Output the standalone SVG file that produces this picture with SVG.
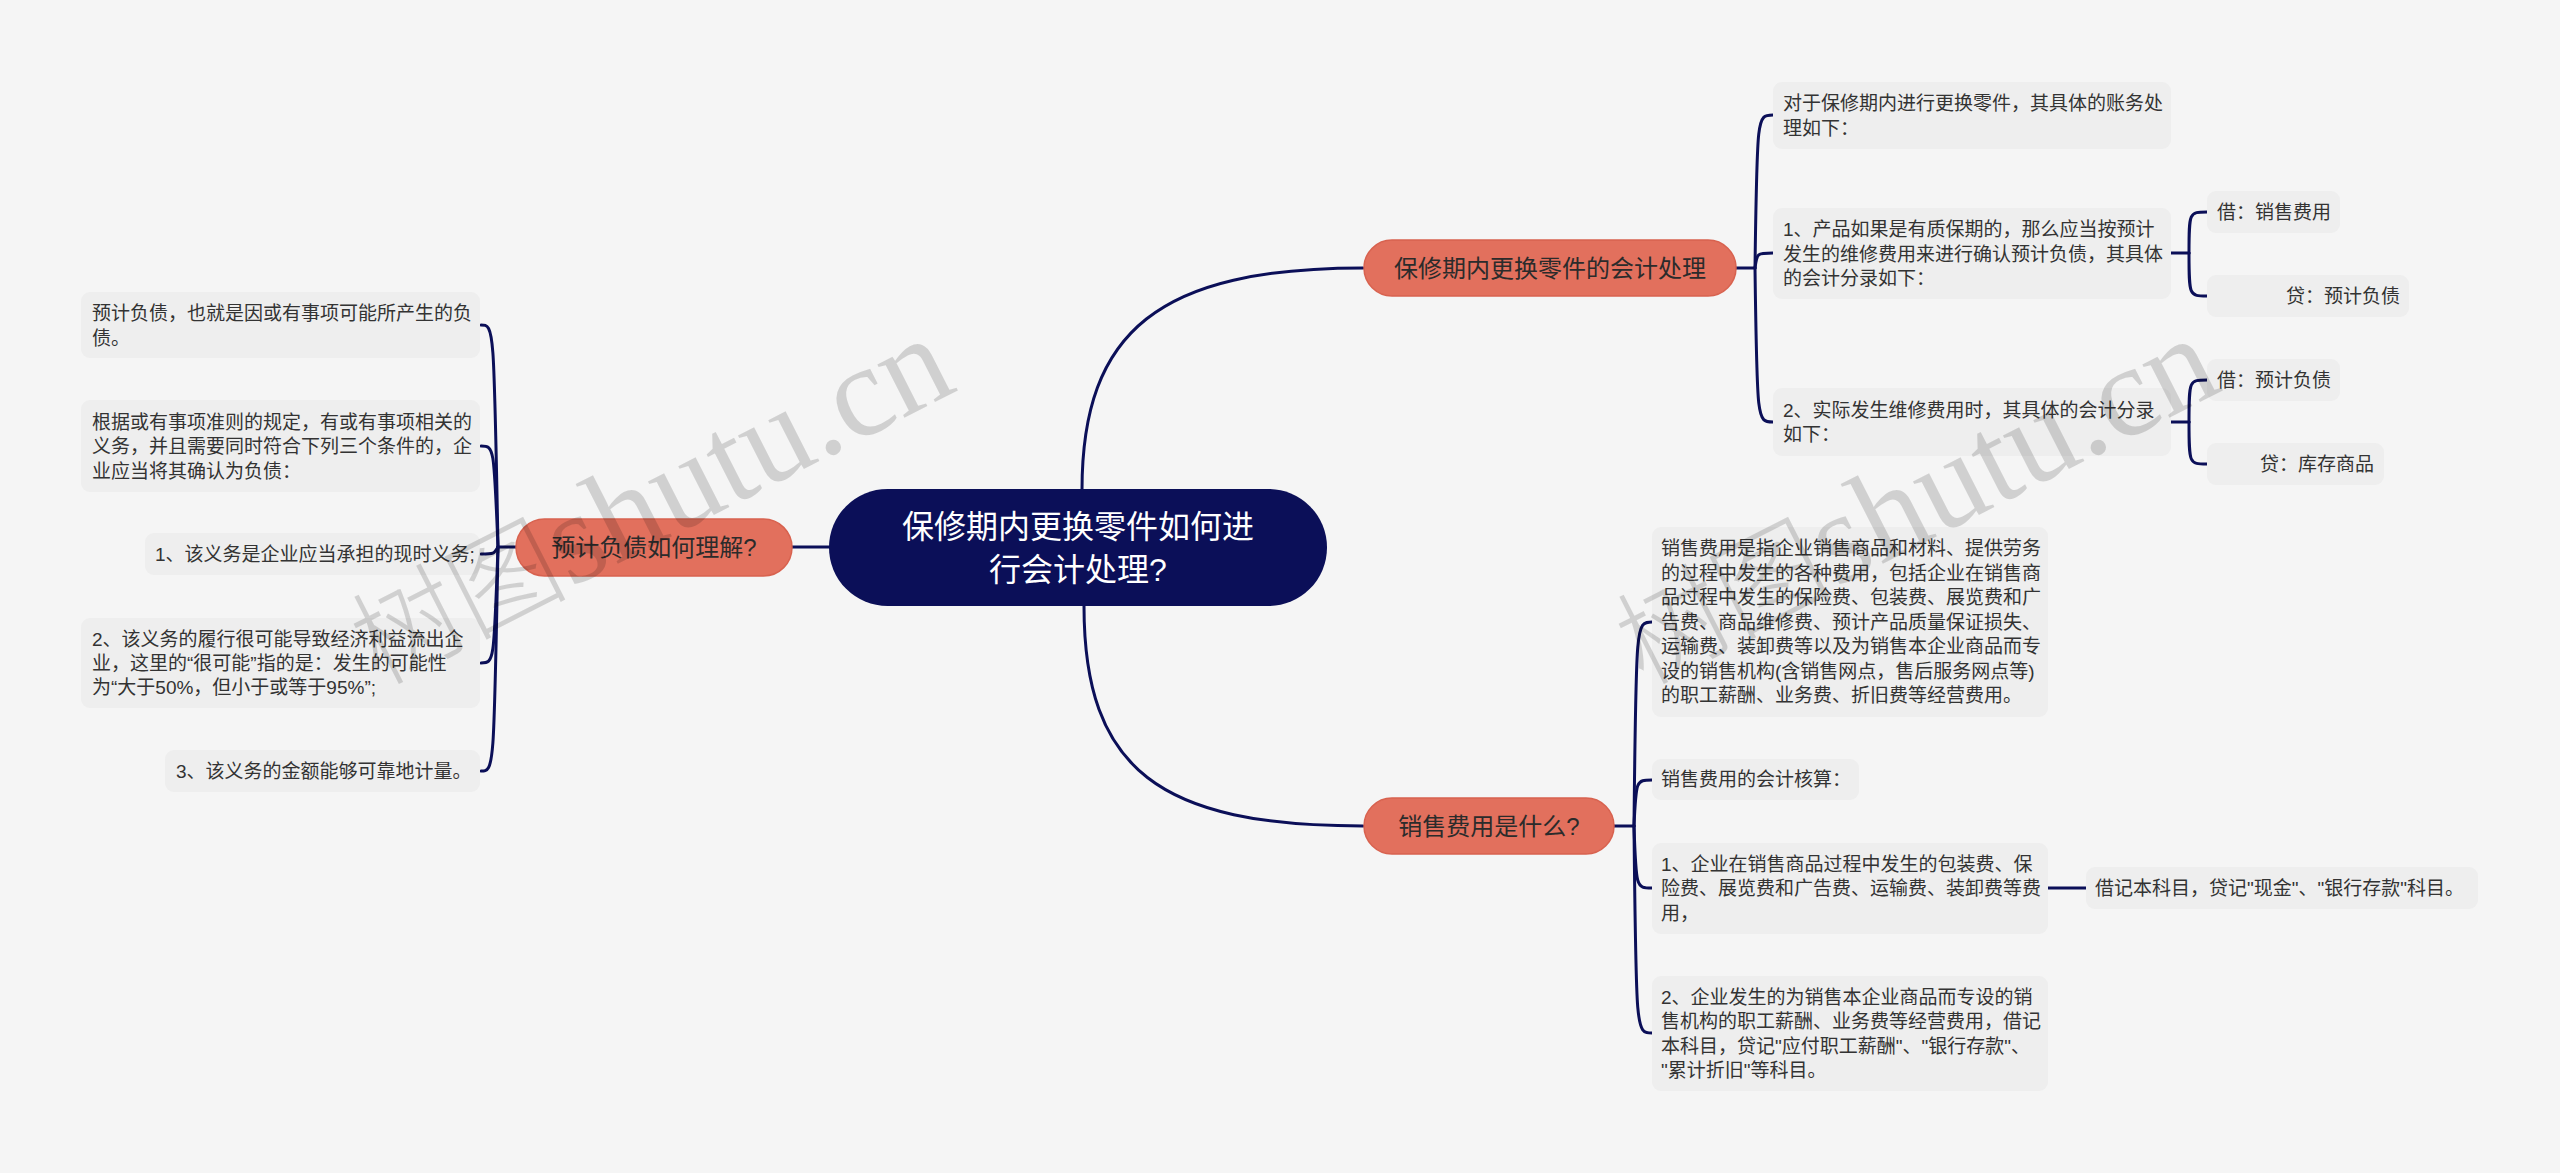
<svg xmlns="http://www.w3.org/2000/svg" width="2560" height="1173" viewBox="0 0 2560 1173">
<style>
.leaf{fill:#eeeeee}
.lt{font-family:"Liberation Sans","Noto Sans CJK SC",sans-serif;font-size:19px;fill:#333333;dominant-baseline:central}
.br{fill:#e2705d;stroke:#d8624f;stroke-width:1.5}
.bt{font-family:"Liberation Sans","Noto Sans CJK SC",sans-serif;font-size:24px;fill:#2b2b2b;dominant-baseline:central;text-anchor:middle}
.root{fill:#0b0f58}
.rt{font-family:"Liberation Sans","Noto Sans CJK SC",sans-serif;font-size:32px;fill:#ffffff;dominant-baseline:central;text-anchor:middle}
.cn{fill:none;stroke:#0b0f58;stroke-width:3;stroke-linecap:round}
.wm{font-family:"Liberation Serif","Noto Sans CJK SC",serif;font-size:130px;fill:#000000;fill-opacity:0.15}
.wmc{font-size:108px;font-weight:300}
</style>
<rect width="2560" height="1173" fill="#f5f5f5"/>

<g id="connectors">
  <path class="cn" d="M1082 490 C1082 330,1160 268,1363 268"/>
  <path class="cn" d="M1084 606 C1084 770,1160 826,1363 826"/>
  <path class="cn" d="M792 547 H830"/>
  <path class="cn" d="M516 547 H498"/>
  <path class="cn" d="M498 547 C494 325,494 325,481 325"/>
  <path class="cn" d="M498 547 C494 446,494 446,481 446"/>
  <path class="cn" d="M498 547 C494 554,494 554,481 554"/>
  <path class="cn" d="M498 547 C494 663,494 663,481 663"/>
  <path class="cn" d="M498 547 C494 771,494 771,481 771"/>
  <path class="cn" d="M1736 268 H1755"/>
  <path class="cn" d="M1755 268 C1757 115,1757 115,1773 115"/>
  <path class="cn" d="M1755 268 C1757 253,1757 253,1773 253"/>
  <path class="cn" d="M1755 268 C1757 422,1757 422,1773 422"/>
  <path class="cn" d="M2171 253 H2189"/>
  <path class="cn" d="M2189 253 C2189 212,2189 212,2207 212"/>
  <path class="cn" d="M2189 253 C2189 296,2189 296,2207 296"/>
  <path class="cn" d="M2171 422 H2189"/>
  <path class="cn" d="M2189 422 C2189 380,2189 380,2207 380"/>
  <path class="cn" d="M2189 422 C2189 464,2189 464,2207 464"/>
  <path class="cn" d="M1614 826 H1634"/>
  <path class="cn" d="M1634 826 C1636 622,1636 622,1652 622"/>
  <path class="cn" d="M1634 826 C1636 780,1636 780,1652 780"/>
  <path class="cn" d="M1634 826 C1636 888,1636 888,1652 888"/>
  <path class="cn" d="M1634 826 C1636 1033,1636 1033,1652 1033"/>
  <path class="cn" d="M2048 888 H2086"/>
</g>

<g id="root">
  <rect class="root" x="829" y="489" width="498" height="117" rx="58.5"/>
  <text class="rt" x="1078" y="527">保修期内更换零件如何进</text>
  <text class="rt" x="1078" y="570">行会计处理?</text>
</g>

<g id="branch-left">
  <rect class="br" x="516" y="519" width="276" height="57" rx="28.5"/>
  <text class="bt" x="654" y="547">预计负债如何理解?</text>
</g>
<g id="branch-top">
  <rect class="br" x="1364" y="240" width="372" height="56" rx="28"/>
  <text class="bt" x="1550" y="268">保修期内更换零件的会计处理</text>
</g>
<g id="branch-bottom">
  <rect class="br" x="1364" y="798" width="250" height="56" rx="28"/>
  <text class="bt" x="1489" y="826">销售费用是什么?</text>
</g>

<g id="l1">
  <rect class="leaf" x="81" y="292" width="399" height="66" rx="9"/>
  <text class="lt" x="92" y="313">预计负债，也就是因或有事项可能所产生的负</text>
  <text class="lt" x="92" y="338">债。</text>
</g>
<g id="l2">
  <rect class="leaf" x="81" y="400" width="399" height="92" rx="9"/>
  <text class="lt" x="92" y="422">根据或有事项准则的规定，有或有事项相关的</text>
  <text class="lt" x="92" y="446.5">义务，并且需要同时符合下列三个条件的，企</text>
  <text class="lt" x="92" y="471">业应当将其确认为负债：</text>
</g>
<g id="l3">
  <rect class="leaf" x="145" y="533" width="335" height="42" rx="9"/>
  <text class="lt" x="155" y="554">1、该义务是企业应当承担的现时义务;</text>
</g>
<g id="l4">
  <rect class="leaf" x="81" y="618" width="399" height="90" rx="9"/>
  <text class="lt" x="92" y="639">2、该义务的履行很可能导致经济利益流出企</text>
  <text class="lt" x="92" y="663">业，这里的“很可能”指的是：发生的可能性</text>
  <text class="lt" x="92" y="687.5">为“大于50%，但小于或等于95%”;</text>
</g>
<g id="l5">
  <rect class="leaf" x="165" y="750" width="315" height="42" rx="9"/>
  <text class="lt" x="176" y="771">3、该义务的金额能够可靠地计量。</text>
</g>

<g id="t1">
  <rect class="leaf" x="1773" y="82" width="398" height="67" rx="9"/>
  <text class="lt" x="1783" y="103.5">对于保修期内进行更换零件，其具体的账务处</text>
  <text class="lt" x="1783" y="128">理如下：</text>
</g>
<g id="t2">
  <rect class="leaf" x="1773" y="208" width="398" height="91" rx="9"/>
  <text class="lt" x="1783" y="229.5">1、产品如果是有质保期的，那么应当按预计</text>
  <text class="lt" x="1783" y="254">发生的维修费用来进行确认预计负债，其具体</text>
  <text class="lt" x="1783" y="278.5">的会计分录如下：</text>
</g>
<g id="t3">
  <rect class="leaf" x="1773" y="388" width="398" height="68" rx="9"/>
  <text class="lt" x="1783" y="410">2、实际发生维修费用时，其具体的会计分录</text>
  <text class="lt" x="1783" y="434.5">如下：</text>
</g>
<g id="t2a">
  <rect class="leaf" x="2207" y="191" width="133" height="42" rx="9"/>
  <text class="lt" x="2217" y="212">借：销售费用</text>
</g>
<g id="t2b">
  <rect class="leaf" x="2207" y="275" width="202" height="42" rx="9"/>
  <text class="lt" x="2400" y="296" text-anchor="end">贷：预计负债</text>
</g>
<g id="t3a">
  <rect class="leaf" x="2207" y="359" width="133" height="42" rx="9"/>
  <text class="lt" x="2217" y="380">借：预计负债</text>
</g>
<g id="t3b">
  <rect class="leaf" x="2207" y="443" width="177" height="42" rx="9"/>
  <text class="lt" x="2374" y="464" text-anchor="end">贷：库存商品</text>
</g>

<g id="b1">
  <rect class="leaf" x="1652" y="527" width="396" height="190" rx="9"/>
  <text class="lt" x="1661" y="548.5">销售费用是指企业销售商品和材料、提供劳务</text>
  <text class="lt" x="1661" y="573">的过程中发生的各种费用，包括企业在销售商</text>
  <text class="lt" x="1661" y="597.5">品过程中发生的保险费、包装费、展览费和广</text>
  <text class="lt" x="1661" y="622">告费、商品维修费、预计产品质量保证损失、</text>
  <text class="lt" x="1661" y="646.5">运输费、装卸费等以及为销售本企业商品而专</text>
  <text class="lt" x="1661" y="671">设的销售机构(含销售网点，售后服务网点等)</text>
  <text class="lt" x="1661" y="695.5">的职工薪酬、业务费、折旧费等经营费用。</text>
</g>
<g id="b2">
  <rect class="leaf" x="1652" y="759" width="207" height="41" rx="9"/>
  <text class="lt" x="1661" y="779.5">销售费用的会计核算：</text>
</g>
<g id="b3">
  <rect class="leaf" x="1652" y="843" width="396" height="91" rx="9"/>
  <text class="lt" x="1661" y="864">1、企业在销售商品过程中发生的包装费、保</text>
  <text class="lt" x="1661" y="888.5">险费、展览费和广告费、运输费、装卸费等费</text>
  <text class="lt" x="1661" y="913">用，</text>
</g>
<g id="b3a">
  <rect class="leaf" x="2086" y="867" width="392" height="42" rx="9"/>
  <text class="lt" x="2095" y="888">借记本科目，贷记"现金"、"银行存款"科目。</text>
</g>
<g id="b4">
  <rect class="leaf" x="1652" y="976" width="396" height="115" rx="9"/>
  <text class="lt" x="1661" y="997">2、企业发生的为销售本企业商品而专设的销</text>
  <text class="lt" x="1661" y="1021.5">售机构的职工薪酬、业务费等经营费用，借记</text>
  <text class="lt" x="1661" y="1046">本科目，贷记"应付职工薪酬"、"银行存款"、</text>
  <text class="lt" x="1661" y="1070.5">"累计折旧"等科目。</text>
</g>

<g id="watermarks">
  <text class="wm" transform="translate(378 686) rotate(-27)"><tspan class="wmc">树图</tspan>shutu.cn</text>
  <text class="wm" transform="translate(1643 686) rotate(-27)"><tspan class="wmc">树图</tspan>shutu.cn</text>
</g>
</svg>
